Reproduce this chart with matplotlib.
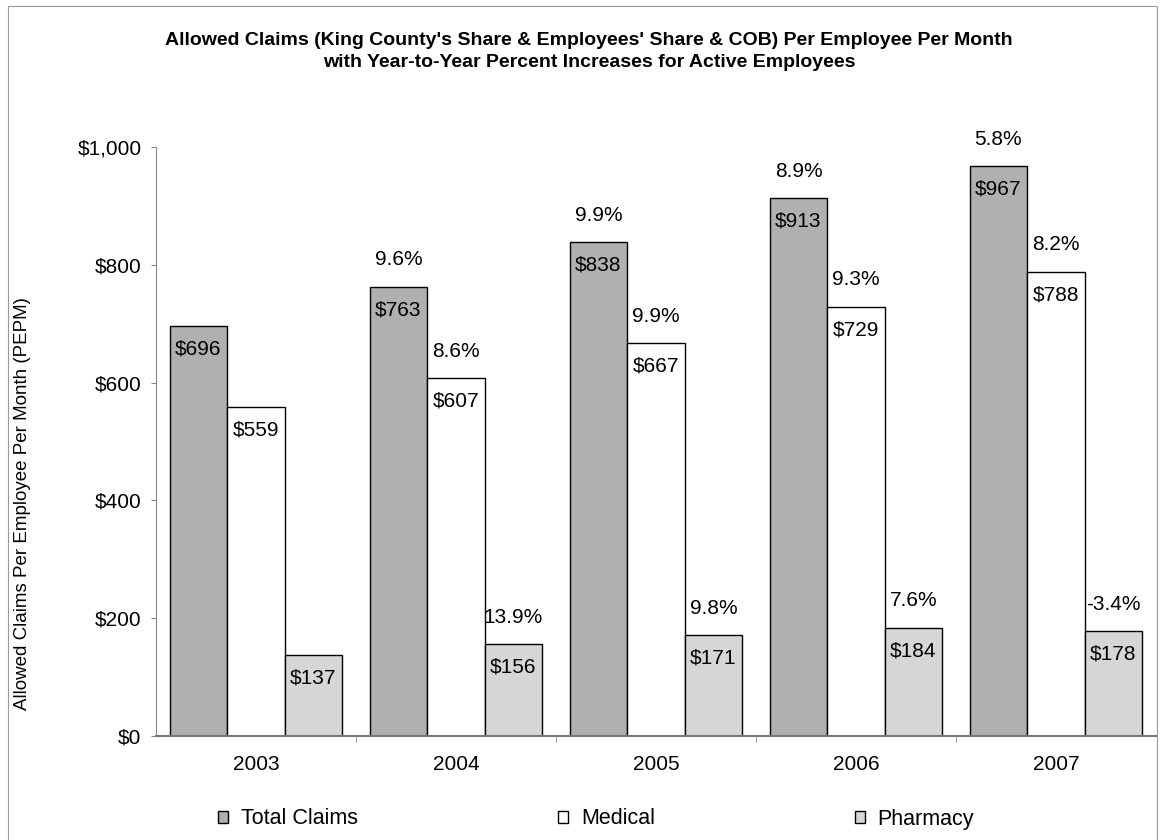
import matplotlib.pyplot as plt
import numpy as np
from matplotlib.patches import Rectangle

plt.rcParams['font.family'] = ['Liberation Sans', 'DejaVu Sans']

# Data
years = ['2003', '2004', '2005', '2006', '2007']
total_claims = [696, 763, 838, 913, 967]
medical = [559, 607, 667, 729, 788]
pharmacy = [137, 156, 171, 184, 178]
total_pct = [None, 9.6, 9.9, 8.9, 5.8]
medical_pct = [None, 8.6, 9.9, 9.3, 8.2]
pharmacy_pct = [None, 13.9, 9.8, 7.6, -3.4]

series = [
    ('Total Claims', total_claims, total_pct, '#b0b0b0'),
    ('Medical', medical, medical_pct, '#ffffff'),
    ('Pharmacy', pharmacy, pharmacy_pct, '#d6d6d6'),
]

fig = plt.figure(figsize=(11.6, 8.4), dpi=100)
ax = fig.add_axes([0.1345, 0.1238, 0.862, 0.7012])

x = np.arange(len(years))
width = 0.2875

for i, (name, vals, pcts, color) in enumerate(series):
    pos = x + (i - 1) * width
    ax.bar(pos, vals, width, color=color, edgecolor='black', linewidth=1.0, label=name)
    for p, v, pc in zip(pos, vals, pcts):
        ax.annotate(f'${v:,}', (p, v), xytext=(0, -23), textcoords='offset pixels',
                    ha='center', va='center', fontsize=15)
        if pc is not None:
            ax.annotate(f'{pc:.1f}%', (p, v), xytext=(0, 27), textcoords='offset pixels',
                        ha='center', va='center', fontsize=15)

ax.set_xlim(-0.5, len(years) - 0.5)
ax.set_ylim(0, 1000)
ax.set_yticks(np.arange(0, 1001, 200))
ax.set_yticklabels([f'${v:,}' for v in range(0, 1001, 200)], fontsize=15)
ax.set_xticks(x)
ax.set_xticklabels(years, fontsize=15)
ax.set_xticks(np.arange(0.5, len(years) - 0.5, 1), minor=True)
ax.tick_params(axis='x', which='major', length=0, pad=14)
ax.tick_params(axis='x', which='minor', length=4, color='#888888')
ax.tick_params(axis='y', length=3.5, color='#888888', pad=7)

for s in ['top', 'right']:
    ax.spines[s].set_visible(False)
ax.spines['left'].set_color('#888888')
ax.spines['bottom'].set_color('#777777')
ax.spines['bottom'].set_linewidth(1.5)

fig.text(0.508, 0.952, "Allowed Claims (King County's Share & Employees' Share & COB) Per Employee Per Month",
         ha='center', va='center', fontsize=14, fontweight='bold')
fig.text(0.508, 0.926, 'with Year-to-Year Percent Increases for Active Employees',
         ha='center', va='center', fontsize=14, fontweight='bold')

fig.text(0.019, 0.40, 'Allowed Claims Per Employee Per Month (PEPM)', rotation=90,
         ha='center', va='center', fontsize=13.5)

fig.legend(loc='center', bbox_to_anchor=(0.514, 0.025), ncol=3, frameon=False,
           fontsize=15.5, handlelength=0.45, handleheight=0.45, handletextpad=0.6,
           columnspacing=9.3)

# thin frame around the chart area
fig.patches.append(Rectangle((0.007, -0.01), 0.99, 1.003, transform=fig.transFigure,
                             fill=False, edgecolor='#999999', linewidth=0.8))

fig.savefig('out.png', dpi=100)
